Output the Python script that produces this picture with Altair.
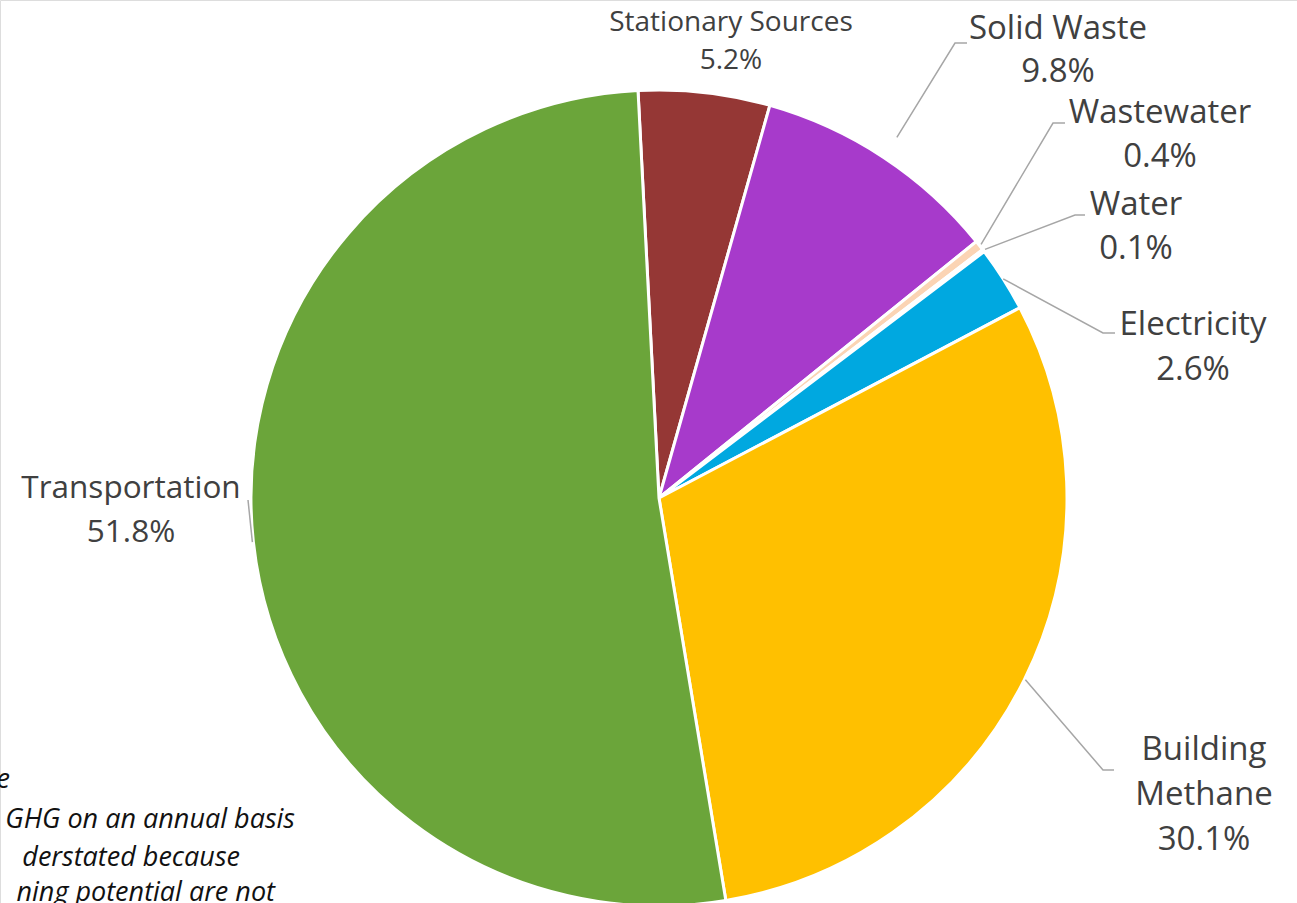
import math
import altair as alt
import pandas as pd

# ---- data ----
categories = ["Stationary Sources", "Solid Waste", "Wastewater", "Water",
              "Electricity", "Building Methane", "Transportation"]
shares = [5.2, 9.8, 0.4, 0.1, 2.6, 30.1, 51.8]
label_names = ["Stationary Sources", "Solid Waste", "Wastewater", "Water",
               "Electricity", "Building\nMethane", "Transportation"]
footnote_lines = ["e", "GHG on an annual basis", "derstated  because", "ning potential are not"]

# ---- style / layout ----
colors = ["#953735", "#A73ACB", "#FBD4B4", "#C9C9C9", "#00A8E0", "#FFC000", "#6BA53A"]
W, H = 1297, 903
CX, CY, R = 659, 498, 408
START_DEG = -2.95
label_x = [731, 1058, 1160, 1136, 1193, 1204, 131]
label_y = [23, 29, 113, 205, 325, 750, 489]   # centre of first line
label_size = [28, 33, 33, 33, 33, 33, 31.5]
label_lh = [38, 43, 44, 44, 45, 45, 44]
# leader lines: (gap beyond rim, elbow point, end point) ; None = no leader
leaders = [None,
           (24, (955, 43), (967, 43)),
           (2, (1053, 123), (1065, 123)),
           (2, (1075, 215), (1085, 215)),
           (0, (1103, 333), (1115, 333)),
           (1, (1103, 770), (1114, 770)),
           (1, None, (248, 500))]
foot_x = [10, 295, 240, 275]
foot_y = [780, 820, 858, 893]

total = sum(shares)
pie_df = pd.DataFrame({"cat": categories, "share": shares, "idx": list(range(len(shares)))})

lab_rows = []
for i, c in enumerate(categories):
    lab_rows.append({"cat": c, "text": f"{label_names[i]}\n{shares[i]:.1f}%",
                     "x": label_x[i], "y": label_y[i]})

# leader line table, starting from each slice's mid angle
line_rows = []
cum = 0.0
for i, v in enumerate(shares):
    mid = START_DEG + (cum + v / 2) / total * 360
    cum += v
    if leaders[i] is None:
        continue
    gap, elbow, end = leaders[i]
    r = R + gap
    a = math.radians(mid)
    pts = [(CX + r * math.sin(a), CY - r * math.cos(a))]
    if elbow is not None:
        pts.append(elbow)
    pts.append(end)
    for k, (px, py) in enumerate(pts):
        line_rows.append({"seg": categories[i], "k": k, "x": px, "y": py})
line_df = pd.DataFrame(line_rows)

xs = alt.Scale(domain=[0, W], range=[0, W])
ys = alt.Scale(domain=[0, H], range=[0, H])

start = math.radians(START_DEG)
pie = alt.Chart(pie_df).mark_arc(outerRadius=R, stroke="white", strokeWidth=3).encode(
    theta=alt.Theta("share:Q", stack=True, scale=alt.Scale(range=[start, start + 2 * math.pi])),
    color=alt.Color("cat:N", scale=alt.Scale(domain=categories, range=colors), legend=None),
    order=alt.Order("idx:Q"),
    x=alt.value(CX),
    y=alt.value(CY),
)

lines = alt.Chart(line_df).mark_line(color="#A6A6A6", strokeWidth=1.5).encode(
    x=alt.X("x:Q", scale=xs, axis=None),
    y=alt.Y("y:Q", scale=ys, axis=None),
    detail="seg:N",
    order="k:Q",
)

text_layers = []
for i in range(len(categories)):
    d = pd.DataFrame([lab_rows[i]])
    text_layers.append(
        alt.Chart(d).mark_text(font="Open Sans", fontSize=label_size[i], color="#404040",
                               align="center", baseline="middle", lineBreak="\n",
                               lineHeight=label_lh[i]).encode(
            x=alt.X("x:Q", scale=xs, axis=None),
            y=alt.Y("y:Q", scale=ys, axis=None),
            text="text:N",
        )
    )

foot_df = pd.DataFrame({"t": footnote_lines, "x": foot_x, "y": foot_y})
foot = alt.Chart(foot_df).mark_text(font="Open Sans", fontSize=27, fontStyle="italic",
                                    color="#111111", align="right", baseline="middle").encode(
    x=alt.X("x:Q", scale=xs, axis=None),
    y=alt.Y("y:Q", scale=ys, axis=None),
    text="t:N",
)

chart = alt.layer(pie, lines, *text_layers, foot).properties(
    width=W, height=H, padding=0, autosize=alt.AutoSizeParams(type="none")
).configure_view(stroke=None).configure(background="white")

chart.save("out.html", embed_options={"renderer": "svg", "actions": False})
